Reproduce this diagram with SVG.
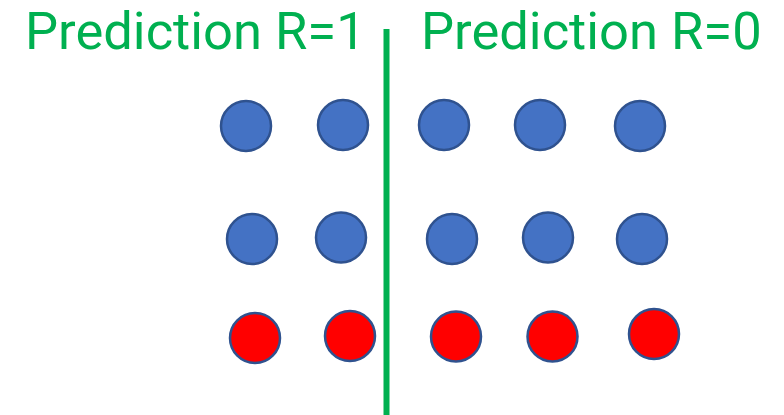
<svg xmlns="http://www.w3.org/2000/svg" width="784" height="415" viewBox="0 0 784 415">
<style>
.t{font-family:Roboto,"Liberation Sans",sans-serif;font-size:52.5px;fill:#00B050}
.b{fill:#4472C4;stroke:#2F528F;stroke-width:2.5}
.r{fill:#FF0000;stroke:#2F528F;stroke-width:2.5}
</style>
<rect width="784" height="415" fill="#FFFFFF"/>
<g id="labels">
<text class="t" x="25" y="49">Prediction R=1</text>
<text class="t" x="421" y="49">Prediction R=0</text>
</g>
<g id="connectors">
<line x1="386.5" y1="29" x2="386.5" y2="415" stroke="#00B050" stroke-width="6"/>
</g>
<g id="nodes">
<circle id="b11" class="b" cx="246" cy="126" r="25"/>
<circle id="b12" class="b" cx="343" cy="125" r="25"/>
<circle id="b13" class="b" cx="444" cy="125" r="25"/>
<circle id="b14" class="b" cx="540" cy="125" r="25"/>
<circle id="b15" class="b" cx="640" cy="126" r="25"/>
<circle id="b21" class="b" cx="252" cy="239" r="25"/>
<circle id="b22" class="b" cx="341" cy="237.5" r="25"/>
<circle id="b23" class="b" cx="452" cy="239" r="25"/>
<circle id="b24" class="b" cx="548" cy="237.5" r="25"/>
<circle id="b25" class="b" cx="642" cy="239" r="25"/>
<circle id="r1" class="r" cx="255" cy="338" r="25"/>
<circle id="r2" class="r" cx="350" cy="336" r="25"/>
<circle id="r3" class="r" cx="456" cy="336.5" r="25"/>
<circle id="r4" class="r" cx="552.5" cy="336.5" r="25"/>
<circle id="r5" class="r" cx="654" cy="334" r="25"/>
</g>
</svg>
